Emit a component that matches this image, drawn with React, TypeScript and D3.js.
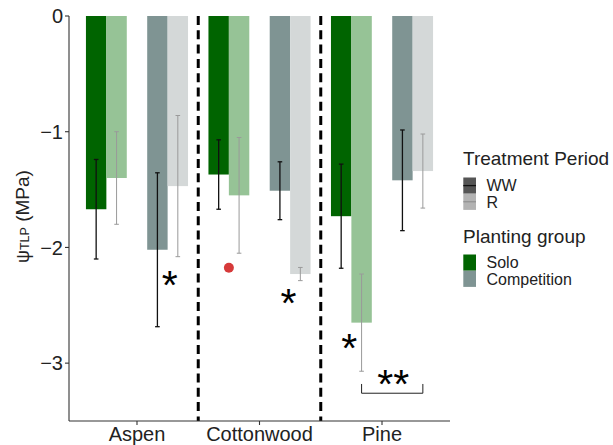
import React from "react";
import * as d3 from "d3";

// Turgor loss point (MPa) by species, planting group and treatment period
const categories = ["Aspen", "Cottonwood", "Pine"];

const soloWW = [-1.67, -1.37, -1.73];
const soloWWse = [0.43, 0.3, 0.45];
const soloR = [-1.4, -1.55, -2.65];
const soloRse = [0.4, 0.5, 0.42];
const compWW = [-2.02, -1.51, -1.42];
const compWWse = [0.665, 0.25, 0.435];
const compR = [-1.47, -2.23, -1.34];
const compRse = [0.61, 0.057, 0.32];

const yTicks = [0, -1, -2, -3];

// significance marks: category, slot offset (in bar widths), value, label
const starMarks = [
  { cat: "Aspen", slot: 1.6, value: -2.26, label: "*" },
  { cat: "Cottonwood", slot: 1.42, value: -2.42, label: "*" },
  { cat: "Pine", slot: -1.6, value: -2.81, label: "*" },
  { cat: "Pine", slot: 0.55, value: -3.12, label: "**" },
];
// bracket between Pine Solo R and Pine Competition R
const bracket = { cat: "Pine", from: -1, to: 2, value: -3.26, tip: -3.18 };
// single highlighted observation
const redPoint = { cat: "Cottonwood", slot: -1.5, value: -2.175 };

// legend entries
const periodLabels = ["WW", "R"];
const groupLabels = ["Solo", "Competition"];

const W = 613;
const H = 445;
const panel = { left: 69, right: 450, top: 16, bottom: 421 };

const FONT = "'Liberation Sans', Arial, Helvetica, sans-serif";

const colors = {
  soloWW: "#006400",
  soloR: "#96c396",
  compWW: "#7f9493",
  compR: "#d4d8d8",
};

export default function App() {
  const x = d3
    .scalePoint<string>()
    .domain(categories)
    .range([panel.left, panel.right])
    .padding(0.555);
  const step = x.step();
  const slotW = step / 6;
  const y = d3.scaleLinear().domain([-3.5, 0]).range([panel.bottom, panel.top]);

  const series = [
    { vals: soloWW, se: soloWWse, slot: -2, fill: colors.soloWW, ww: true },
    { vals: soloR, se: soloRse, slot: -1, fill: colors.soloR, ww: false },
    { vals: compWW, se: compWWse, slot: 1, fill: colors.compWW, ww: true },
    { vals: compR, se: compRse, slot: 2, fill: colors.compR, ww: false },
  ];

  const cx = (cat: string, slot: number) => (x(cat) as number) + slot * slotW;

  const dividers = [0.5, 1.5].map(
    (k) => ((x(categories[Math.floor(k)]) as number) + (x(categories[Math.ceil(k)]) as number)) / 2
  );

  const capHalf = 2.3;

  // legend layout
  const keyX = 463.3;
  const keyW = 12.7;
  const keyH = 16.2;
  const periodTop = 177.5;
  const groupTop = 254.5;
  const periodFill = ["#555", "#b3b3b3"];
  const periodLine = ["#111", "#8a8a8a"];
  const groupFill = [colors.soloWW, colors.compWW];

  return (
    <svg
      width={W}
      height={H}
      style={{ position: "absolute", left: 0, top: 0, background: "#fff" }}
      fontFamily={FONT}
    >
      {/* bars */}
      {series.map((s, si) =>
        categories.map((c, ci) => {
          const xc = cx(c, s.slot);
          const v = s.vals[ci];
          return (
            <rect
              key={`b${si}-${ci}`}
              x={xc - slotW / 2}
              y={y(0)}
              width={slotW}
              height={y(v) - y(0)}
              fill={s.fill}
            />
          );
        })
      )}

      {/* error bars */}
      {series.map((s, si) =>
        categories.map((c, ci) => {
          const xc = cx(c, s.slot);
          const v = s.vals[ci];
          const hi = y(v + s.se[ci]);
          const lo = y(v - s.se[ci]);
          const stroke = s.ww ? "#111" : "#9a9a9a";
          const sw = s.ww ? 1.3 : 1;
          return (
            <g key={`e${si}-${ci}`} stroke={stroke} strokeWidth={sw}>
              <line x1={xc} x2={xc} y1={hi} y2={lo} />
              <line x1={xc - capHalf} x2={xc + capHalf} y1={hi} y2={hi} />
              <line x1={xc - capHalf} x2={xc + capHalf} y1={lo} y2={lo} />
            </g>
          );
        })
      )}

      {/* dashed species dividers */}
      {dividers.map((dx, i) => (
        <line
          key={`d${i}`}
          x1={dx}
          x2={dx}
          y1={panel.top}
          y2={panel.bottom}
          stroke="#000"
          strokeWidth={3}
          strokeDasharray="9 5.3"
        />
      ))}

      {/* highlighted point */}
      <circle cx={cx(redPoint.cat, redPoint.slot)} cy={y(redPoint.value)} r={5} fill="#d63a3a" />

      {/* significance stars */}
      {starMarks.map((m, i) => (
        <text
          key={`s${i}`}
          x={cx(m.cat, m.slot)}
          y={y(m.value)}
          textAnchor="middle"
          fontSize={41}
          dy="0.52em"
          fill="#000"
        >
          {m.label}
        </text>
      ))}
      <path
        d={`M${cx(bracket.cat, bracket.from)},${y(bracket.tip)}V${y(bracket.value)}H${cx(
          bracket.cat,
          bracket.to
        )}V${y(bracket.tip)}`}
        fill="none"
        stroke="#222"
        strokeWidth={1}
      />

      {/* axes */}
      <line x1={panel.left} x2={panel.left} y1={panel.top} y2={panel.bottom} stroke="#333" strokeWidth={1.1} />
      <line x1={panel.left} x2={panel.right} y1={panel.bottom} y2={panel.bottom} stroke="#333" strokeWidth={1.1} />
      {yTicks.map((t) => (
        <g key={`yt${t}`}>
          <line x1={panel.left - 4} x2={panel.left} y1={y(t)} y2={y(t)} stroke="#333" strokeWidth={1.1} />
          <text x={panel.left - 6} y={y(t)} dy="0.36em" textAnchor="end" fontSize={20} fill="#222">
            {t === 0 ? "0" : `\u2212${Math.abs(t)}`}
          </text>
        </g>
      ))}
      {categories.map((c) => (
        <g key={`xt${c}`}>
          <line x1={x(c)} x2={x(c)} y1={panel.bottom} y2={panel.bottom + 4} stroke="#333" strokeWidth={1.1} />
          <text x={x(c)} y={panel.bottom + 20} textAnchor="middle" fontSize={20} fill="#222">
            {c}
          </text>
        </g>
      ))}

      {/* y axis title */}
      <text transform="translate(28.5,216.5) rotate(-90)" textAnchor="middle" fill="#222">
        <tspan fontSize={18}>ψ</tspan>
        <tspan fontSize={12.5}>TLP</tspan>
        <tspan fontSize={19}> (MPa)</tspan>
      </text>

      {/* legends */}
      <g fill="#222">
        <text x={463} y={165} fontSize={19}>Treatment Period</text>
        {periodLabels.map((lab, i) => {
          const top = periodTop + i * keyH;
          return (
            <g key={`pl${lab}`}>
              <rect x={keyX} y={top} width={keyW} height={keyH} fill={periodFill[i]} />
              <line
                x1={keyX}
                x2={keyX + keyW}
                y1={top + keyH / 2}
                y2={top + keyH / 2}
                stroke={periodLine[i]}
                strokeWidth={i === 0 ? 1.3 : 1}
              />
              <text x={486.5} y={top + keyH / 2} dy="0.36em" fontSize={16}>
                {lab}
              </text>
            </g>
          );
        })}

        <text x={463} y={243} fontSize={19}>Planting group</text>
        {groupLabels.map((lab, i) => {
          const top = groupTop + i * keyH;
          return (
            <g key={`gl${lab}`}>
              <rect x={keyX} y={top} width={keyW} height={keyH} fill={groupFill[i]} />
              <text x={486.5} y={top + keyH / 2} dy="0.36em" fontSize={16}>
                {lab}
              </text>
            </g>
          );
        })}
      </g>
    </svg>
  );
}
